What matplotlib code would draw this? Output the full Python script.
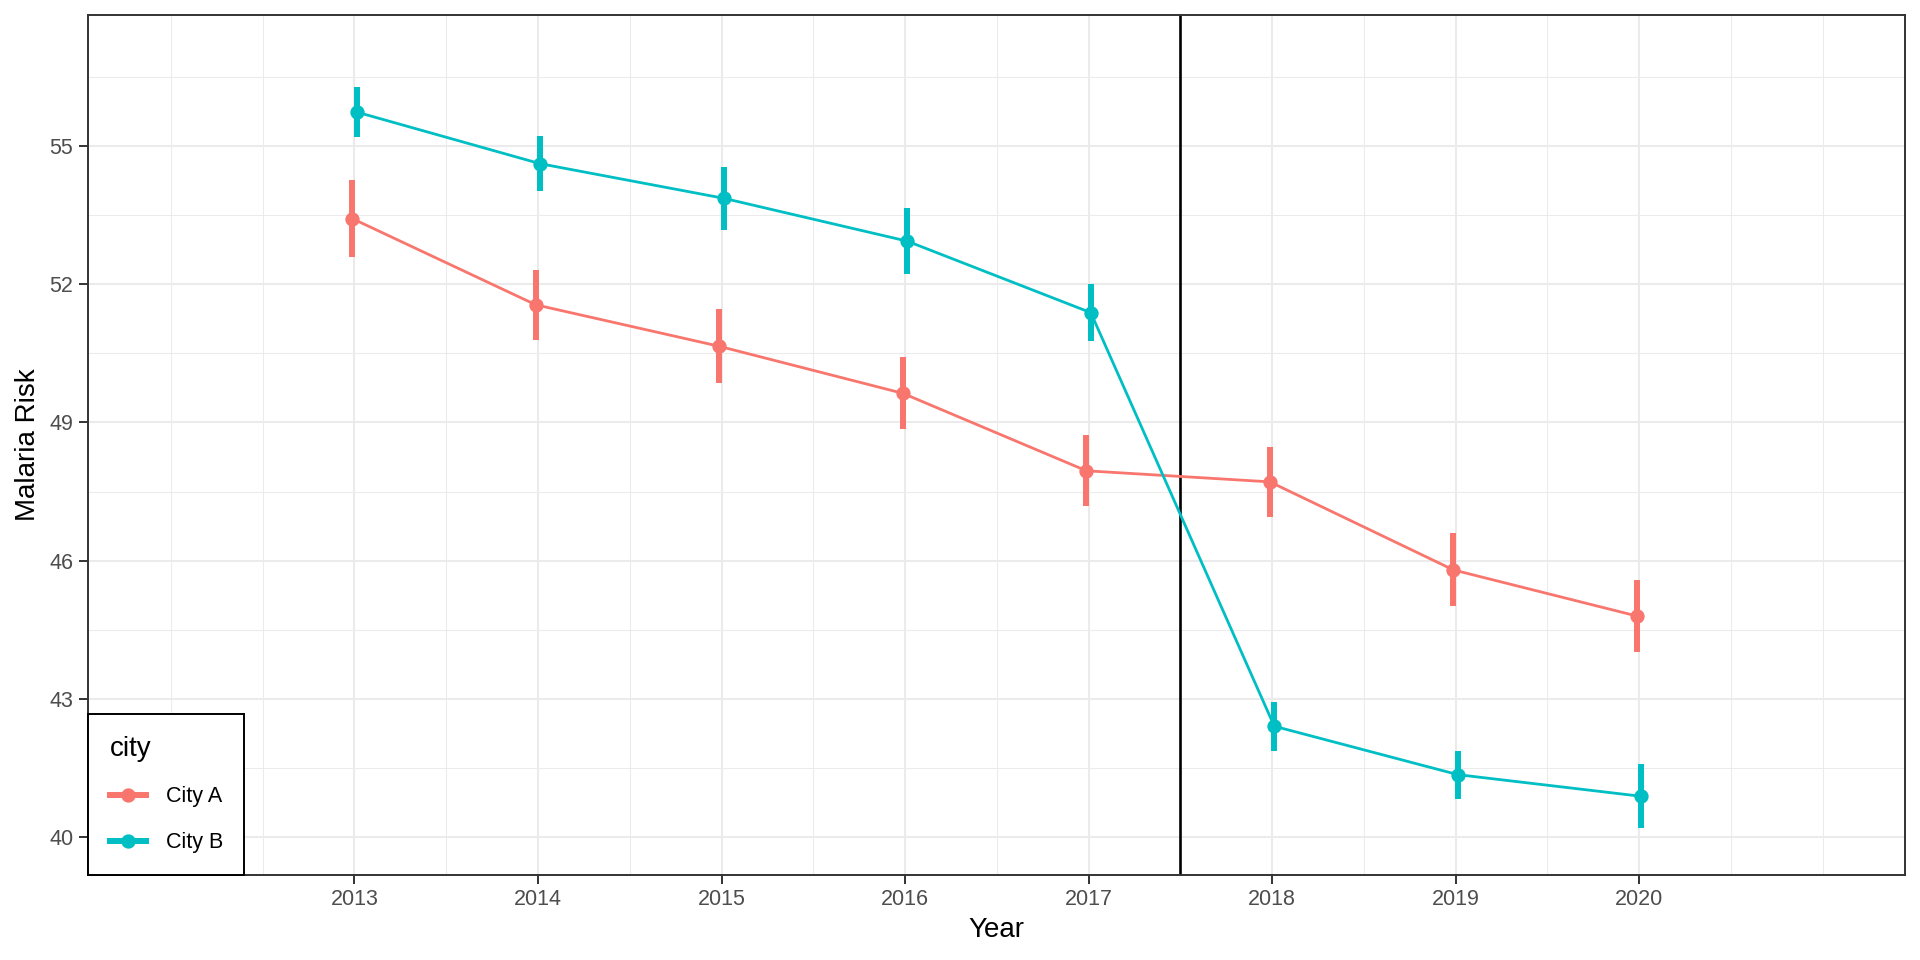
import numpy as np
import matplotlib
matplotlib.use("Agg")
import matplotlib.pyplot as plt
from matplotlib.lines import Line2D

plt.rcParams['font.family'] = ['Liberation Sans', 'DejaVu Sans']

years = [2013, 2014, 2015, 2016, 2017, 2018, 2019, 2020]
city_names = ["City A", "City B"]
city_a = [53.42, 51.55, 50.65, 49.63, 47.95, 47.71, 45.80, 44.80]
city_a_err = [0.83, 0.76, 0.80, 0.78, 0.77, 0.76, 0.79, 0.78]
city_b = [55.73, 54.61, 53.86, 52.93, 51.38, 42.41, 41.36, 40.89]
city_b_err = [0.55, 0.60, 0.68, 0.72, 0.62, 0.53, 0.52, 0.69]
cutoff = 2017.5
colors = ["#F8766D", "#00BFC4"]

fig = plt.figure(figsize=(19.2, 9.6), dpi=100)
ax = fig.add_axes([88 / 1920, 1 - 874.7 / 960, (1904.7 - 88) / 1920, (874.7 - 15) / 960])

x = np.array(years, dtype=float)
series = [(city_a, city_a_err, -0.012), (city_b, city_b_err, 0.012)]
for (vals, errs, shift), col in zip(series, colors):
    xs = x + shift
    vals = np.array(vals)
    errs = np.array(errs)
    ax.plot(xs, vals, color=col, lw=2.0, zorder=3, solid_capstyle='butt')
    ax.vlines(xs, vals - errs, vals + errs, color=col, lw=4.3, zorder=4)
    ax.plot(xs, vals, 'o', color=col, ms=10.3, mew=0, zorder=5)

ax.axvline(cutoff, color='black', lw=1.9, zorder=2)

# ticks first, limits after (set_ticks can widen the view)
ax.set_xticks(years)
ax.set_xticks(np.arange(2012, 2021.01, 0.5), minor=True)
ax.set_yticks(np.arange(40, 56, 3))
ax.set_yticks(np.arange(41.5, 57, 1.5), minor=True)
ax.set_xlim(2011.548, 2021.447)
ax.set_ylim(39.19, 57.835)
ax.grid(which='major', color='#EBEBEB', lw=1.5, zorder=0)
ax.grid(which='minor', color='#EBEBEB', lw=0.75, zorder=0)
ax.set_axisbelow(True)

ax.tick_params(which='major', length=6.5, width=1.4, color='#333333',
               labelsize=15.5, labelcolor='#4D4D4D', pad=4)
ax.tick_params(which='minor', length=0)
for s in ax.spines.values():
    s.set_color('#333333')
    s.set_linewidth(1.4)

ax.set_xlabel("Year", fontsize=20, labelpad=5)
ax.set_ylabel("Malaria Risk", fontsize=20, labelpad=6)

handles = [Line2D([0], [0], color=c, lw=4.3, marker='o', ms=10.3, mew=0) for c in colors]
leg = ax.legend(handles, city_names, title="city", loc='lower left', bbox_to_anchor=(0, 0),
                borderaxespad=0, frameon=True, fancybox=False, fontsize=15.5,
                title_fontsize=20, handlelength=1.7, handletextpad=0.9,
                labelspacing=1.15, borderpad=1.0)
leg._legend_box.align = "left"
leg.get_frame().set_edgecolor('black')
leg.get_frame().set_linewidth(1.4)
leg.get_frame().set_alpha(1)
leg.set_zorder(10)

fig.savefig("out.png", dpi=100)
